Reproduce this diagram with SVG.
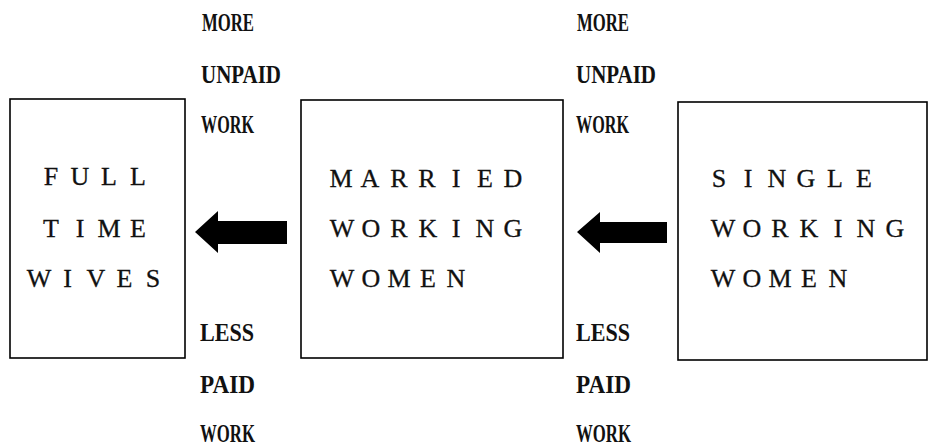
<svg xmlns="http://www.w3.org/2000/svg" width="930" height="447" viewBox="0 0 930 447">
<style>
.box{fill:#fff;stroke:#000;stroke-width:1.6}
.bt{font-family:"Liberation Serif","Times New Roman",serif;font-size:26px;fill:#111;stroke:#111;stroke-width:0.3;text-anchor:middle}
.lb{font-family:"Liberation Serif","Times New Roman",serif;font-size:25px;font-weight:bold;fill:#111}
.arr{fill:#000}
</style>
<rect width="930" height="447" fill="#fff"/>
<g id="full-time-wives">
<rect class="box" x="10" y="99" width="175" height="259"/>
<text class="bt" x="51 80 109 138" y="185">FULL</text>
<text class="bt" x="51 80 109 138" y="237">TIME</text>
<text class="bt" x="39 67.5 96 124.5 153" y="287">WIVES</text>
</g>
<g id="married-working-women">
<rect class="box" x="301" y="100" width="262" height="258"/>
<text class="bt" x="341 370 399 427 456 485 513" y="187">MARRIED</text>
<text class="bt" x="342 371 399 428 456 485 513" y="237">WORKING</text>
<text class="bt" x="342 371 399 428 456" y="287">WOMEN</text>
</g>
<g id="single-working-women">
<rect class="box" x="678" y="102" width="249" height="258"/>
<text class="bt" x="719 748 777 806 835 864" y="187">SINGLE</text>
<text class="bt" x="723 752 780 809 838 866 895" y="237">WORKING</text>
<text class="bt" x="723 752 780 809 838" y="287">WOMEN</text>
</g>
<g id="labels-1">
<text class="lb" x="202" y="31" textLength="52" lengthAdjust="spacingAndGlyphs">MORE</text>
<text class="lb" x="201" y="83" textLength="80" lengthAdjust="spacingAndGlyphs">UNPAID</text>
<text class="lb" x="201" y="133" textLength="53" lengthAdjust="spacingAndGlyphs">WORK</text>
<text class="lb" x="200" y="341" textLength="54" lengthAdjust="spacingAndGlyphs">LESS</text>
<text class="lb" x="200" y="393" textLength="55" lengthAdjust="spacingAndGlyphs">PAID</text>
<text class="lb" x="200" y="442" textLength="55" lengthAdjust="spacingAndGlyphs">WORK</text>
</g>
<g id="labels-2">
<text class="lb" x="577" y="31" textLength="52" lengthAdjust="spacingAndGlyphs">MORE</text>
<text class="lb" x="576" y="83" textLength="80" lengthAdjust="spacingAndGlyphs">UNPAID</text>
<text class="lb" x="576" y="133" textLength="53" lengthAdjust="spacingAndGlyphs">WORK</text>
<text class="lb" x="576" y="341" textLength="54" lengthAdjust="spacingAndGlyphs">LESS</text>
<text class="lb" x="576" y="393" textLength="55" lengthAdjust="spacingAndGlyphs">PAID</text>
<text class="lb" x="576" y="442" textLength="55" lengthAdjust="spacingAndGlyphs">WORK</text>
</g>
<g id="connectors">
<polygon class="arr" points="195,232 218,211 218,221 287,221 287,244 218,244 218,253"/>
<polygon class="arr" points="577,232 600,212 600,222 667,222 667,243 600,243 600,253"/>
</g>
</svg>
